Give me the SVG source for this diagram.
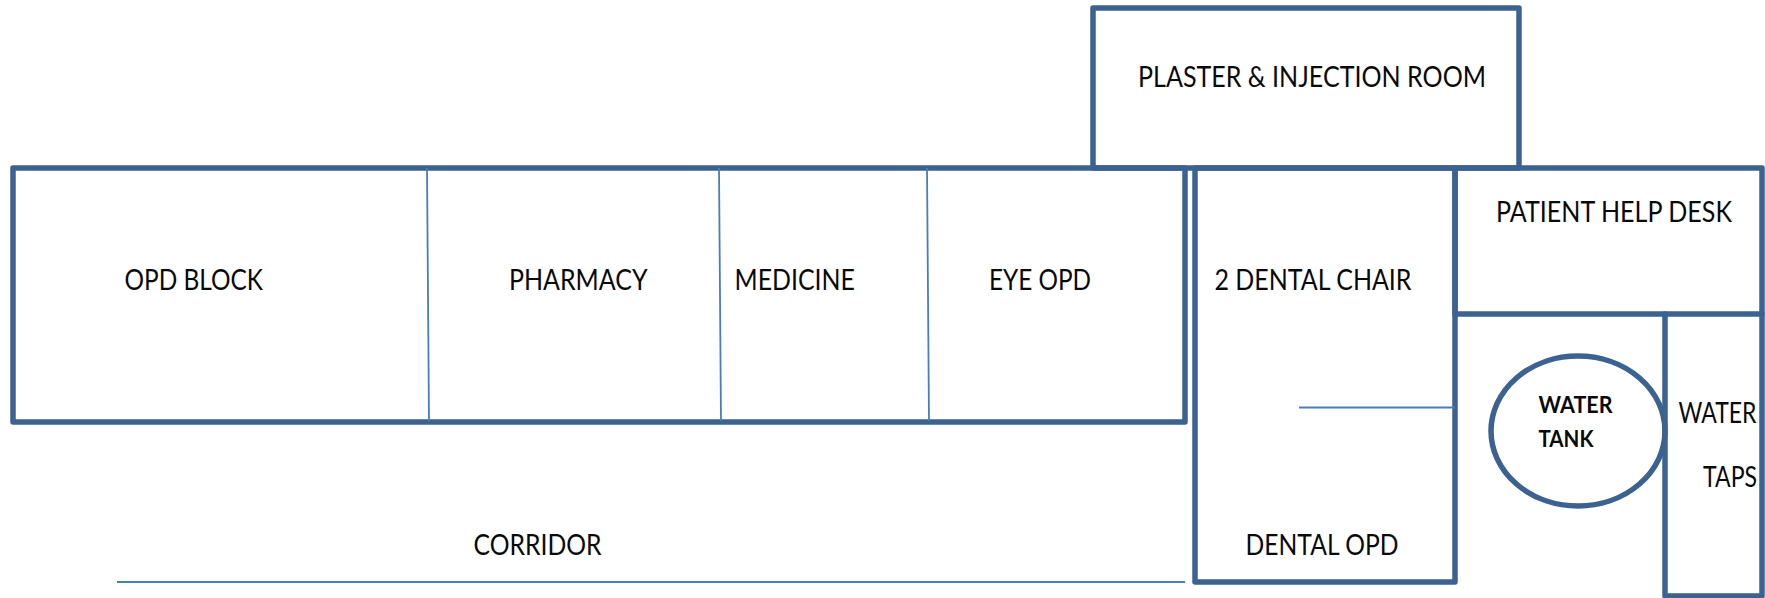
<svg xmlns="http://www.w3.org/2000/svg" width="1765" height="598" viewBox="0 0 1765 598">
<style>
.wall{fill:none;stroke:#3c6291;stroke-width:5.5;stroke-linejoin:round;stroke-linecap:round}
.thin{fill:none;stroke:#4a7ebb;stroke-width:1.8}
text{font-family:"Lato","Open Sans","Liberation Sans",sans-serif;font-size:29px;fill:#0a0a0a}
.b{font-weight:700;font-size:22px}
</style>
<rect width="1765" height="598" fill="#fff"/>
<g id="plaster-room"><rect class="wall" x="1093" y="8" width="426" height="160"/><text x="1138" y="86.5" textLength="348" lengthAdjust="spacingAndGlyphs">PLASTER &amp; INJECTION ROOM</text></g>
<g id="opd-block"><rect class="wall" x="13" y="168" width="1172" height="254"/><text x="124.5" y="289.5" textLength="138.5" lengthAdjust="spacingAndGlyphs">OPD BLOCK</text></g>
<g id="pharmacy"><text x="509" y="289.5" textLength="138.5" lengthAdjust="spacingAndGlyphs">PHARMACY</text></g>
<g id="medicine"><text x="734.5" y="289.5" textLength="120.5" lengthAdjust="spacingAndGlyphs">MEDICINE</text></g>
<g id="eye-opd"><text x="989" y="289.5" textLength="102" lengthAdjust="spacingAndGlyphs">EYE OPD</text></g>
<g id="dental-opd"><rect class="wall" x="1195" y="168" width="260" height="414"/><text x="1214.5" y="289.5" textLength="197" lengthAdjust="spacingAndGlyphs">2 DENTAL CHAIR</text><text x="1245.5" y="554.5" textLength="153" lengthAdjust="spacingAndGlyphs">DENTAL OPD</text></g>
<g id="help-desk"><rect class="wall" x="1455" y="168" width="307" height="146"/><text x="1496" y="221.5" textLength="236" lengthAdjust="spacingAndGlyphs">PATIENT HELP DESK</text></g>
<g id="water-tank"><ellipse class="wall" cx="1578" cy="431" rx="87" ry="75"/><text class="b" x="1538.5" y="412.5" textLength="74" lengthAdjust="spacingAndGlyphs">WATER</text><text class="b" x="1538.5" y="446.5" textLength="55" lengthAdjust="spacingAndGlyphs">TANK</text></g>
<g id="water-taps"><path class="wall" d="M1665 314V596H1762V314"/><text x="1678.5" y="422.5" textLength="78" lengthAdjust="spacingAndGlyphs">WATER</text><text x="1703" y="487" textLength="54" lengthAdjust="spacingAndGlyphs">TAPS</text></g>
<g id="corridor"><text x="473.5" y="554.5" textLength="128" lengthAdjust="spacingAndGlyphs">CORRIDOR</text></g>
<g id="connectors">
<path class="thin" d="M427 168L429 421"/>
<path class="thin" d="M719 168L721 421"/>
<path class="thin" d="M927 168L929 421"/>
<path class="thin" d="M1299 407.5H1455"/>
<path class="thin" d="M117 582H1185"/>
</g>
</svg>
